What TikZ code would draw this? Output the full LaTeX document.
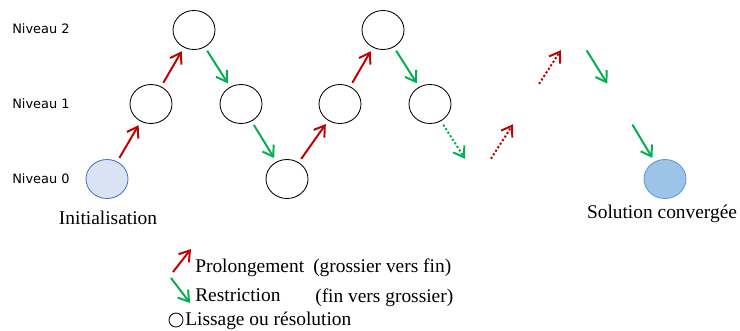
\documentclass[tikz,border=0pt]{standalone}
\usepackage{fontspec}
\setmainfont{Liberation Serif}
\newfontfamily\levelfont{DejaVu Sans}
\usetikzlibrary{shapes.geometric,arrows.meta}
\definecolor{prolred}{HTML}{C00000}
\definecolor{restgreen}{HTML}{00B050}
\definecolor{initfill}{HTML}{DAE3F3}
\definecolor{initedge}{HTML}{4472C4}
\definecolor{convfill}{HTML}{9DC3E6}
\definecolor{convedge}{HTML}{5B9BD5}
\begin{document}
\begin{tikzpicture}[x=0.025cm,y=-0.025cm,>={Straight Barb[length=2.5mm,width=3.3mm]},
  grid/.style={draw,ellipse,line width=0.6pt,minimum width=1.05cm,minimum height=0.975cm,inner sep=0pt},
  up/.style={->,prolred,line width=1.4pt,shorten <=3pt,shorten >=3pt},
  down/.style={->,restgreen,line width=1.4pt,shorten <=3pt,shorten >=3pt},
  faint/.style={dash pattern=on 1.5pt off 1.5pt},
  level/.style={anchor=west,inner sep=0pt,font=\levelfont\fontsize{9.2}{11}\selectfont},
  txt/.style={anchor=base west,inner sep=0pt,font=\fontsize{13.8}{16}\selectfont}]
\useasboundingbox (0,0) rectangle (740,330);
% niveaux
\node[level] (lv2) at (12,29) {Niveau 2};
\node[level] (lv1) at (12,104) {Niveau 1};
\node[level] (lv0) at (12,179) {Niveau 0};
% cycle
\node[grid,fill=initfill,draw=initedge] (n0) at (107,179) {};
\node[grid] (n1) at (151,104) {};
\node[grid] (n2) at (194,30) {};
\node[grid] (n3) at (241,104) {};
\node[grid] (n4) at (287,179) {};
\node[grid] (n5) at (340,104) {};
\node[grid] (n6) at (383,30) {};
\node[grid] (n7) at (430,104) {};
\coordinate (g0) at (478,179);
\coordinate (g1) at (526,104);
\coordinate (g2) at (574,30);
\coordinate (g3) at (620,104);
\node[grid,fill=convfill,draw=convedge] (n8) at (665,179) {};
\draw[up] (n0)--(n1);
\draw[up] (n1)--(n2);
\draw[down] (n2)--(n3);
\draw[down] (n3)--(n4);
\draw[up] (n4)--(n5);
\draw[up] (n5)--(n6);
\draw[down] (n6)--(n7);
\draw[down,faint,shorten >=0.6cm] (n7)--(g0);
\draw[up,faint,shorten <=0.6cm,shorten >=0.6cm] (g0)--(g1);
\draw[up,faint,shorten <=0.6cm,shorten >=0.6cm] (g1)--(g2);
\draw[down,shorten <=0.6cm,shorten >=0.6cm] (g2)--(g3);
\draw[down,shorten <=0.6cm] (g3)--(n8);
\node[txt,anchor=base] (init) at (108,224) {Initialisation};
\node[txt,anchor=base] (conv) at (662,218) {Solution convergée};
% legende
\coordinate (kp0) at (173,272);
\coordinate (kp1) at (191,249);
\coordinate (kr0) at (171,278);
\coordinate (kr1) at (190,303);
\draw[up,shorten <=0pt,shorten >=0pt] (kp0)--(kp1);
\draw[down,shorten <=0pt,shorten >=0pt] (kr0)--(kr1);
\node[draw,circle,line width=0.6pt,minimum size=0.35cm,inner sep=0pt] (key) at (176,320) {};
\node[txt] (prol) at (195,272) {Prolongement};
\node[txt] (prolx) at (313,272) {(grossier vers fin)};
\node[txt] (rest) at (195,301) {Restriction};
\node[txt] (restx) at (315,302) {(fin vers grossier)};
\node[txt] (liss) at (185,325) {Lissage ou résolution};
\end{tikzpicture}
\end{document}
